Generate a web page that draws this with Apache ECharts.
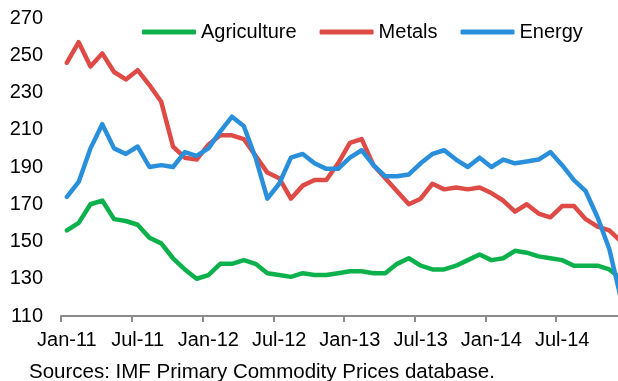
<!DOCTYPE html>
<html>
<head>
<meta charset="utf-8">
<style>
  html, body { margin: 0; padding: 0; background: #fff; }
  #chart { width: 618px; height: 381px; }
</style>
<script src="https://cdn.jsdelivr.net/npm/echarts@6/dist/echarts.min.js"></script>
</head>
<body>
<div id="chart"></div>
<script>
// Monthly commodity price indices, Jan 2011 - Dec 2014
const monthNames = ['Jan', 'Feb', 'Mar', 'Apr', 'May', 'Jun', 'Jul', 'Aug', 'Sep', 'Oct', 'Nov', 'Dec'];
const years = ['11', '12', '13', '14'];
const months = [];
years.forEach(y => monthNames.forEach(m => months.push(m + '-' + y)));

const agriculture = [
  156, 160, 170, 172, 162, 161, 159, 152, 149, 141, 135, 130,
  132, 138, 138, 140, 138, 133, 132, 131, 133, 132, 132, 133,
  134, 134, 133, 133, 138, 141, 137, 135, 135, 137, 140, 143,
  140, 141, 145, 144, 142, 141, 140, 137, 137, 137, 135, 130
];
const metals = [
  246, 257, 244, 251, 241, 237, 242, 234, 225, 201, 195, 194,
  202, 207, 207, 205, 196, 187, 184, 173, 180, 183, 183, 192,
  203, 205, 191, 184, 177, 170, 173, 181, 178, 179, 178, 179,
  176, 172, 166, 170, 165, 163, 169, 169, 162, 158, 156, 150
];
const energy = [
  174, 182, 200, 213, 200, 197, 201, 190, 191, 190, 198, 196,
  200, 209, 217, 212, 195, 173, 181, 195, 197, 192, 189, 189,
  195, 199, 191, 185, 185, 186, 192, 197, 199, 194, 190, 195,
  190, 194, 192, 193, 194, 198, 191, 183, 177, 163, 146, 119
];

const yTicks = { min: 110, max: 270, interval: 20 };
const sourceNote = 'Sources: IMF Primary Commodity Prices database.';

const FONT = '"Liberation Sans", Arial, sans-serif';
const AXIS_GREY = '#8c8c8c';

function lineSeries(name, data, color) {
  return {
    name: name,
    type: 'line',
    data: data,
    showSymbol: false,
    symbol: 'none',
    smooth: false,
    animation: false,
    lineStyle: { color: color, width: 4.5, cap: 'round', join: 'round' },
    itemStyle: { color: color }
  };
}

const chart = echarts.init(document.getElementById('chart'), null, { renderer: 'canvas' });
chart.setOption({
  backgroundColor: '#ffffff',
  animation: false,
  textStyle: { fontFamily: FONT },
  grid: { left: 61, right: -9, top: 18, bottom: 65, containLabel: false, outerBoundsMode: 'none' },
  legend: {
    left: 137,
    top: 17,
    itemWidth: 54,
    itemHeight: 5,
    itemGap: 23,
    icon: 'roundRect',
    textStyle: { fontSize: 20, color: '#000', fontFamily: FONT },
    data: ['Agriculture', 'Metals', 'Energy']
  },
  xAxis: {
    type: 'category',
    data: months,
    boundaryGap: true,
    axisLine: { show: true, lineStyle: { color: AXIS_GREY, width: 2 } },
    axisTick: { show: true, interval: 5, length: 6, inside: false, lineStyle: { color: AXIS_GREY, width: 2 } },
    axisLabel: { interval: 5, margin: 14, fontSize: 20, color: '#000', fontFamily: FONT },
    splitLine: { show: false }
  },
  yAxis: {
    type: 'value',
    min: yTicks.min,
    max: yTicks.max,
    interval: yTicks.interval,
    axisLine: { show: false },
    axisTick: { show: false },
    splitLine: { show: false },
    axisLabel: { margin: 18, fontSize: 20, color: '#000', fontFamily: FONT }
  },
  graphic: [{
    type: 'text',
    left: 29,
    top: 362,
    style: { text: sourceNote, fontSize: 20.5, fill: '#000', fontFamily: FONT }
  }],
  series: [
    lineSeries('Agriculture', agriculture, '#0db14b'),
    lineSeries('Metals', metals, '#de4b47'),
    lineSeries('Energy', energy, '#2a8fdb')
  ]
});
</script>
</body>
</html>
